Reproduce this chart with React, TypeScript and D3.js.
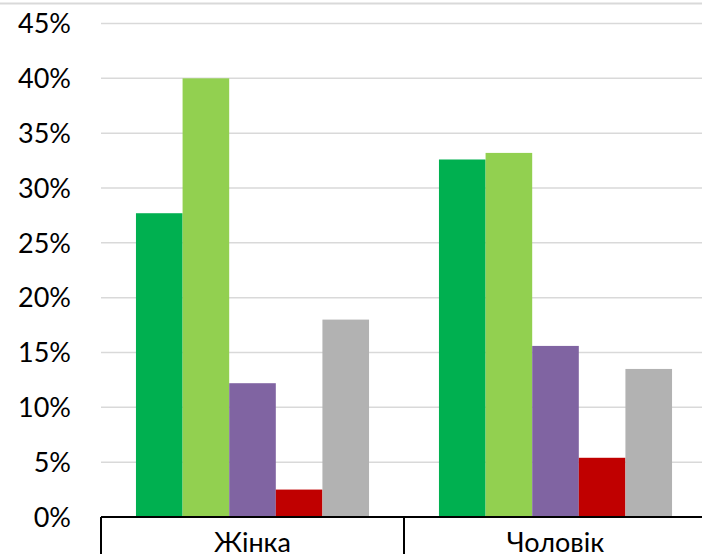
import React from "react";
import * as d3 from "d3";

const categories = ["Жінка", "Чоловік"];
const seriesNames = ["s1", "s2", "s3", "s4", "s5"];
const seriesColors = ["#00B050", "#92D050", "#8064A2", "#C00000", "#B2B2B2"];
const values: number[][] = [
  [0.277, 0.40, 0.122, 0.025, 0.18],
  [0.326, 0.332, 0.156, 0.054, 0.135],
];
const yTicks = [0, 0.05, 0.1, 0.15, 0.2, 0.25, 0.3, 0.35, 0.4, 0.45];

const W = 702;
const H = 554;
const left = 101;
const right = 707;
const top = 23.5;
const bottom = 517;

export default function App() {
  const x = d3.scaleBand<string>().domain(categories).range([left, right]).padding(0);
  const inner = d3
    .scaleBand<string>()
    .domain(seriesNames)
    .range([0, x.bandwidth()])
    .paddingInner(0)
    .paddingOuter(0.75);
  const y = d3.scaleLinear().domain([0, 0.45]).range([bottom, top]);
  const fmt = d3.format(".0%");
  const font = "Lato, 'Open Sans', sans-serif";

  return (
    <div style={{ position: "absolute", left: 0, top: 0, width: W, height: H, overflow: "hidden" }}>
      <svg width={W} height={H} style={{ display: "block", background: "#fff" }}>
        <rect x={0} y={0} width={W} height={H} fill="#fff" />
        <line x1={0} x2={W} y1={3.5} y2={3.5} stroke="#d9d9d9" strokeWidth={2} />
        {yTicks.map((t) => (
          <g key={t}>
            {t > 0 && (
              <line x1={left} x2={W} y1={y(t)} y2={y(t)} stroke="#d9d9d9" strokeWidth={1.5} />
            )}
            <text
              x={71}
              y={y(t)}
              dy="0.36em"
              textAnchor="end"
              fontFamily={font}
              fontSize={27}
              fill="#000"
            >
              {fmt(t)}
            </text>
          </g>
        ))}
        {categories.map((c, ci) => (
          <g key={c}>
            {seriesNames.map((s, si) => {
              const v = values[ci][si];
              return (
                <rect
                  key={s}
                  x={(x(c) ?? 0) + (inner(s) ?? 0)}
                  y={y(v)}
                  width={inner.bandwidth()}
                  height={y(0) - y(v)}
                  fill={seriesColors[si]}
                />
              );
            })}
            <text
              x={(x(c) ?? 0) + x.bandwidth() / 2}
              y={552}
              textAnchor="middle"
              fontFamily={font}
              fontSize={27}
              fill="#000"
            >
              {c}
            </text>
          </g>
        ))}
        <line x1={left} x2={W} y1={bottom} y2={bottom} stroke="#000" strokeWidth={2} />
        {categories.map((c) => x(c) ?? 0).map((xx, i) => (
          <line key={i} x1={xx} x2={xx} y1={bottom} y2={H} stroke="#000" strokeWidth={2} />
        ))}
      </svg>
    </div>
  );
}
